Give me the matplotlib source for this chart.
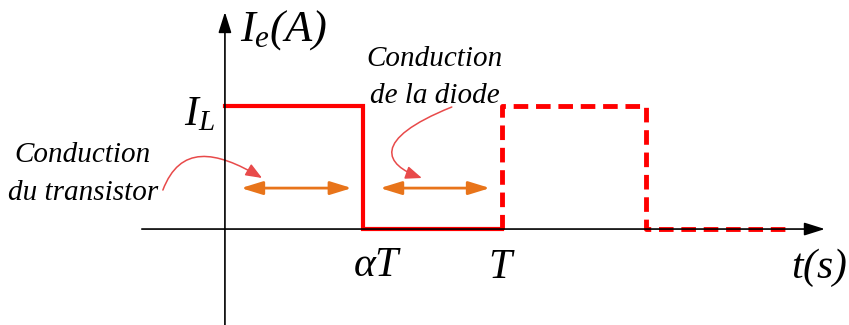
import matplotlib.pyplot as plt
from matplotlib.patches import FancyArrowPatch
from matplotlib.path import Path

plt.rcParams["mathtext.fontset"] = "custom"
plt.rcParams["mathtext.it"] = "Liberation Serif:italic"
plt.rcParams["mathtext.rm"] = "Liberation Serif:italic"
plt.rcParams["mathtext.cal"] = "Liberation Serif:italic"

# waveform, time in units of T, current in units of I_L
alpha = 0.5
period = 1.0
t_solid = [0, alpha, alpha, period]
i_solid = [1, 1, 0, 0]
t_dashed = [period, period, 1.52, 1.52, 2.04]
i_dashed = [0, 1, 1, 0, 0]

# double arrows showing conduction intervals
arrow_level = 0.333
transistor_span = [0.058, 0.458]
diode_span = [0.56, 0.957]

fig = plt.figure(figsize=(8.49, 3.25), dpi=100)
ax = fig.add_axes([0, 0, 1, 1])
ax.set_xlim(-0.812, 2.253)
ax.set_ylim(-0.780, 1.862)
ax.axis("off")

# axes with arrow heads
ax.annotate("", xy=(2.166, 0), xytext=(-0.30, 0),
            arrowprops=dict(arrowstyle="-|>,head_length=0.7,head_width=0.22",
                            color="black", lw=1.2, mutation_scale=18,
                            shrinkA=0, shrinkB=0))
ax.annotate("", xy=(0, 1.764), xytext=(0, -0.78),
            arrowprops=dict(arrowstyle="-|>,head_length=0.7,head_width=0.22",
                            color="black", lw=1.2, mutation_scale=18,
                            shrinkA=0, shrinkB=0))

ax.plot(t_solid, i_solid, color="#ff0000", lw=3, solid_joinstyle="miter")
ax.plot(t_dashed, i_dashed, color="#ff0000", lw=3.5, dashes=(3, 1.6))

orange = "#e8741a"
for span in (transistor_span, diode_span):
    ax.annotate("", xy=(span[1], arrow_level), xytext=(span[0], arrow_level),
                arrowprops=dict(arrowstyle="<|-|>,head_length=0.65,head_width=0.2",
                                color=orange, lw=2, mutation_scale=20,
                                shrinkA=0, shrinkB=0))

# curved pointers
curve_red = "#e84a4a"
curves = [
    [(-0.224, 0.317), (-0.162, 0.683), (-0.036, 0.642), (0.134, 0.415)],
    [(0.819, 0.992), (0.523, 0.724), (0.578, 0.520), (0.711, 0.415)],
]
for pts in curves:
    path = Path(pts, [Path.MOVETO, Path.CURVE4, Path.CURVE4, Path.CURVE4])
    ax.add_patch(FancyArrowPatch(path=path,
                                 arrowstyle="-|>,head_length=0.55,head_width=0.22",
                                 mutation_scale=18, color=curve_red, lw=1.1))

serif = dict(family="Liberation Serif", style="italic", color="black")
ax.text(0.054, 1.618, r"$I_e(A)$", fontsize=32, ha="left", va="center", **serif)
ax.text(-0.036, 0.93, r"$I_L$", fontsize=30, ha="right", va="center", **serif)
ax.text(-0.513, 0.602, "Conduction", fontsize=21, ha="center", va="center", **serif)
ax.text(-0.513, 0.293, "du transistor", fontsize=21, ha="center", va="center", **serif)
ax.text(0.758, 1.382, "Conduction", fontsize=21, ha="center", va="center", **serif)
ax.text(0.758, 1.081, "de la diode", fontsize=21, ha="center", va="center", **serif)
ax.text(alpha + 0.052, -0.30, r"$\alpha T$", fontsize=30, ha="center", va="center", **serif)
ax.text(period, -0.317, r"$T$", fontsize=30, ha="center", va="center", **serif)
ax.text(2.144, -0.317, r"$t(s)$", fontsize=30, ha="center", va="center", **serif)

fig.savefig("out.png", dpi=100)
